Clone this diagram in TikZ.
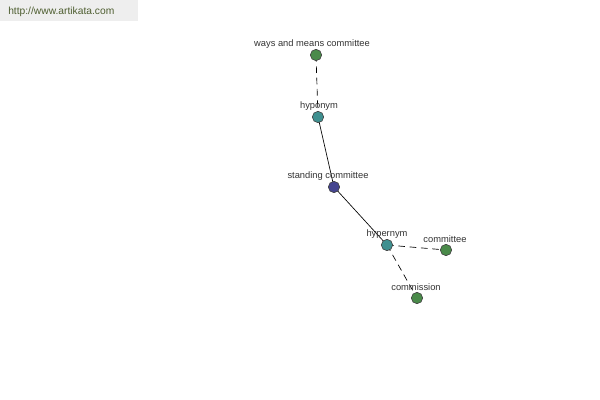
\documentclass[tikz,border=0pt]{standalone}
\usepackage{fontspec}
\setmainfont{Liberation Sans}
\usetikzlibrary{backgrounds}
\definecolor{gnode}{HTML}{4A8A4A}
\definecolor{tnode}{HTML}{3F9090}
\definecolor{bnode}{HTML}{45458F}
\definecolor{bannerbg}{HTML}{EEEEEE}
\definecolor{bannertx}{HTML}{4E5E30}
\definecolor{labeltx}{HTML}{333333}
\begin{document}
\begin{tikzpicture}[x=0.75pt,y=-0.75pt,
  dot/.style={circle,draw=black!75,line width=0.45pt,minimum size=8.5pt,inner sep=0pt},
  lbl/.style={font=\fontsize{7}{8}\selectfont,text=labeltx,inner sep=0pt},
  rel/.style={line width=0.5pt,black},
  dsh/.style={rel,dash pattern=on 5pt off 3.5pt}]
\useasboundingbox (0,0) rectangle (600,400);
% labels
\node[lbl] (lwam) at (312,44) {ways and means committee};
\node[lbl] (lhypo) at (319,106) {hyponym};
\node[lbl] (lstand) at (328,176) {standing committee};
\node[lbl] (lhyper) at (387,234) {hypernym};
\node[lbl] (lcomm) at (445,239) {committee};
\node[lbl] (lcommis) at (416,287) {commission};
% nodes
\node[dot,fill=gnode] (wam) at (316,55) {};
\node[dot,fill=tnode] (hypo) at (318,117) {};
\node[dot,fill=bnode] (stand) at (334,187) {};
\node[dot,fill=tnode] (hyper) at (387,245) {};
\node[dot,fill=gnode] (comm) at (446,250) {};
\node[dot,fill=gnode] (commis) at (417,298) {};
\begin{scope}[on background layer]
\fill[white] (0,0) rectangle (600,400);
\fill[bannerbg] (0,0) rectangle (138,21);
\node[font=\fontsize{7.7}{9}\selectfont,text=bannertx,anchor=west,inner sep=0pt] (banner) at (8,12) {http://www.artikata.com};
\draw[dsh] (wam.center) -- (hypo.center);
\draw[rel] (hypo.center) -- (stand.center);
\draw[rel] (stand.center) -- (hyper.center);
\draw[dsh] (hyper.center) -- (comm.center);
\draw[dsh] (hyper.center) -- (commis.center);
\end{scope}
\end{tikzpicture}
\end{document}
